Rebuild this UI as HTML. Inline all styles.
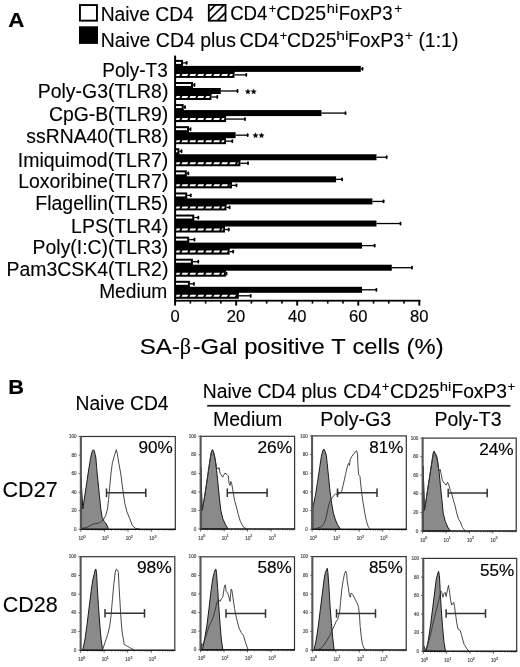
<!DOCTYPE html><html><head><meta charset="utf-8"><style>html,body{margin:0;padding:0;background:#fff;}svg{display:block;filter:grayscale(100%) blur(0.3px);font-family:"Liberation Sans", sans-serif;font-kerning:none;}text{font-kerning:none;white-space:pre;}</style></head><body>
<svg xmlns="http://www.w3.org/2000/svg" width="520" height="667" viewBox="0 0 520 667">
<rect width="520" height="667" fill="#fff"/>
<g transform="translate(8.24,26.60) scale(1.0647,1)" fill="#000" stroke="#000" stroke-width="0.2" font-weight="bold">
<text x="0.00" y="0.00" font-size="21.00">A</text>
</g>
<rect x="79.95" y="5.05" width="17" height="15.6" fill="#fff" stroke="#000" stroke-width="1.9"/>
<rect x="79" y="26.3" width="19" height="17.6" fill="#000"/>
<clipPath id="hb"><rect x="208.8" y="4.9" width="16.7" height="15.8"/></clipPath>
<g clip-path="url(#hb)" stroke="#000" stroke-width="1.6">
<line x1="190.5" y1="30" x2="220.5" y2="0"/>
<line x1="199" y1="30" x2="229" y2="0"/>
<line x1="208" y1="30" x2="238" y2="0"/>
</g>
<rect x="208.8" y="4.9" width="16.7" height="15.8" fill="none" stroke="#000" stroke-width="1.8"/>
<g transform="translate(100.72,20.70) scale(0.9730,1)" fill="#000" stroke="#000" stroke-width="0.12">
<text x="0.00" y="0.00" font-size="19.80">Naive CD4</text>
</g>
<g transform="translate(230.15,19.70) scale(0.9415,1)" fill="#000" stroke="#000" stroke-width="0.12">
<text x="0.00" y="0.00" font-size="19.80">CD4</text>
</g>
<g transform="translate(268.68,12.70) scale(0.9383,1)" fill="#000" stroke="#000" stroke-width="0.12">
<text x="0.00" y="0.00" font-size="13.60">+</text>
</g>
<g transform="translate(276.31,19.70) scale(0.9860,1)" fill="#000" stroke="#000" stroke-width="0.12">
<text x="0.00" y="0.00" font-size="19.80">CD25</text>
</g>
<g transform="translate(326.78,12.70) scale(1.0773,1)" fill="#000" stroke="#000" stroke-width="0.12">
<text x="0.00" y="0.00" font-size="13.60">hi</text>
</g>
<g transform="translate(338.67,19.70) scale(0.9410,1)" fill="#000" stroke="#000" stroke-width="0.12">
<text x="0.00" y="0.00" font-size="19.80">FoxP3</text>
</g>
<g transform="translate(394.13,12.70) scale(1.0140,1)" fill="#000" stroke="#000" stroke-width="0.12">
<text x="0.00" y="0.00" font-size="13.60">+</text>
</g>
<g transform="translate(100.70,46.80) scale(0.9829,1)" fill="#000" stroke="#000" stroke-width="0.12">
<text x="0.00" y="0.00" font-size="19.80">Naive CD4 plus</text>
</g>
<g transform="translate(239.39,46.80) scale(1.0020,1)" fill="#000" stroke="#000" stroke-width="0.12">
<text x="0.00" y="0.00" font-size="19.80">CD4</text>
</g>
<g transform="translate(279.78,39.80) scale(0.9383,1)" fill="#000" stroke="#000" stroke-width="0.12">
<text x="0.00" y="0.00" font-size="13.60">+</text>
</g>
<g transform="translate(287.12,46.80) scale(0.9778,1)" fill="#000" stroke="#000" stroke-width="0.12">
<text x="0.00" y="0.00" font-size="19.80">CD25</text>
</g>
<g transform="translate(336.22,39.80) scale(1.1460,1)" fill="#000" stroke="#000" stroke-width="0.12">
<text x="0.00" y="0.00" font-size="13.60">hi</text>
</g>
<g transform="translate(348.01,46.80) scale(0.9775,1)" fill="#000" stroke="#000" stroke-width="0.12">
<text x="0.00" y="0.00" font-size="19.80">FoxP3</text>
</g>
<g transform="translate(404.94,39.80) scale(0.9989,1)" fill="#000" stroke="#000" stroke-width="0.12">
<text x="0.00" y="0.00" font-size="13.60">+</text>
</g>
<g transform="translate(418.39,46.80) scale(0.9828,1)" fill="#000" stroke="#000" stroke-width="0.12">
<text x="0.00" y="0.00" font-size="19.80">(1:1)</text>
</g>
<rect x="174.1" y="55.6" width="2" height="245.9" fill="#000"/>
<rect x="174.1" y="299.8" width="246.3" height="1.8" fill="#000"/>
<rect x="174.15" y="300" width="1.9" height="5.6" fill="#000"/>
<rect x="189.56" y="300" width="1.6" height="3.6" fill="#000"/>
<rect x="204.82" y="300" width="1.6" height="3.6" fill="#000"/>
<rect x="220.09" y="300" width="1.6" height="3.6" fill="#000"/>
<rect x="235.20" y="300" width="1.9" height="5.6" fill="#000"/>
<rect x="250.61" y="300" width="1.6" height="3.6" fill="#000"/>
<rect x="265.88" y="300" width="1.6" height="3.6" fill="#000"/>
<rect x="281.14" y="300" width="1.6" height="3.6" fill="#000"/>
<rect x="296.25" y="300" width="1.9" height="5.6" fill="#000"/>
<rect x="311.66" y="300" width="1.6" height="3.6" fill="#000"/>
<rect x="326.93" y="300" width="1.6" height="3.6" fill="#000"/>
<rect x="342.19" y="300" width="1.6" height="3.6" fill="#000"/>
<rect x="357.30" y="300" width="1.9" height="5.6" fill="#000"/>
<rect x="372.71" y="300" width="1.6" height="3.6" fill="#000"/>
<rect x="387.97" y="300" width="1.6" height="3.6" fill="#000"/>
<rect x="403.24" y="300" width="1.6" height="3.6" fill="#000"/>
<rect x="418.35" y="300" width="1.9" height="5.6" fill="#000"/>
<g transform="translate(170.49,321.90) scale(1.0300,1)" fill="#000" stroke="#000" stroke-width="0.15">
<text x="0.00" y="0.00" font-size="16.10">0</text>
</g>
<g transform="translate(226.83,321.90) scale(1.0300,1)" fill="#000" stroke="#000" stroke-width="0.15">
<text x="0.00" y="0.00" font-size="16.10">20</text>
</g>
<g transform="translate(288.11,321.90) scale(1.0300,1)" fill="#000" stroke="#000" stroke-width="0.15">
<text x="0.00" y="0.00" font-size="16.10">40</text>
</g>
<g transform="translate(348.93,321.90) scale(1.0300,1)" fill="#000" stroke="#000" stroke-width="0.15">
<text x="0.00" y="0.00" font-size="16.10">60</text>
</g>
<g transform="translate(410.04,321.90) scale(1.0300,1)" fill="#000" stroke="#000" stroke-width="0.15">
<text x="0.00" y="0.00" font-size="16.10">80</text>
</g>
<g transform="translate(139.81,353.60) scale(1.0568,1)" fill="#000" stroke="#000" stroke-width="0.15">
<text x="0.00" y="0.00" font-size="22.80">SA-</text>
</g>
<g transform="translate(179.87,353.60) scale(0.9887,1)" fill="#000" stroke="#000" stroke-width="0.15" font-family="Liberation Serif, serif">
<text x="0.00" y="0.00" font-size="22.40">β</text>
</g>
<g transform="translate(192.64,353.60) scale(1.0429,1)" fill="#000" stroke="#000" stroke-width="0.15">
<text x="0.00" y="0.00" font-size="22.80">-Gal positive T cells (%)</text>
</g>
<rect x="183.00" y="62.25" width="3.70" height="1.3" fill="#000"/>
<rect x="185.80" y="61.00" width="1.8" height="3.8" rx="0.8" fill="#000"/>
<rect x="176" y="59.90" width="7.00" height="6" fill="#000"/>
<rect x="176" y="61.90" width="5.00" height="2" fill="#fff"/>
<rect x="360.80" y="68.25" width="1.70" height="1.3" fill="#000"/>
<rect x="361.60" y="67.00" width="1.8" height="3.8" rx="0.8" fill="#000"/>
<rect x="176" y="65.90" width="184.80" height="6" fill="#000"/>
<rect x="234.50" y="74.25" width="11.80" height="1.3" fill="#000"/>
<rect x="245.40" y="73.00" width="1.8" height="3.8" rx="0.8" fill="#000"/>
<rect x="176" y="71.90" width="58.50" height="6" fill="#000"/>
<rect x="176" y="64.90" width="7.00" height="2" fill="#000"/>
<rect x="176" y="70.90" width="58.50" height="2" fill="#000"/>
<polygon points="176.50,73.90 180.30,73.90 179.30,75.90 176.00,75.90" fill="#fff"/>
<polygon points="182.50,73.90 188.25,73.90 187.25,75.90 181.50,75.90" fill="#fff"/>
<polygon points="190.45,73.90 196.20,73.90 195.20,75.90 189.45,75.90" fill="#fff"/>
<polygon points="198.40,73.90 204.15,73.90 203.15,75.90 197.40,75.90" fill="#fff"/>
<polygon points="206.35,73.90 212.10,73.90 211.10,75.90 205.35,75.90" fill="#fff"/>
<polygon points="214.30,73.90 220.05,73.90 219.05,75.90 213.30,75.90" fill="#fff"/>
<polygon points="222.25,73.90 228.00,73.90 227.00,75.90 221.25,75.90" fill="#fff"/>
<polygon points="230.20,73.90 233.00,73.90 232.00,75.90 229.20,75.90" fill="#fff"/>
<rect x="193.00" y="84.34" width="1.50" height="1.3" fill="#000"/>
<rect x="193.60" y="83.09" width="1.8" height="3.8" rx="0.8" fill="#000"/>
<rect x="176" y="81.99" width="17.00" height="6" fill="#000"/>
<rect x="176" y="83.99" width="15.00" height="2" fill="#fff"/>
<rect x="220.80" y="90.34" width="16.70" height="1.3" fill="#000"/>
<rect x="236.60" y="89.09" width="1.8" height="3.8" rx="0.8" fill="#000"/>
<rect x="176" y="87.99" width="44.80" height="6" fill="#000"/>
<rect x="211.50" y="96.34" width="5.80" height="1.3" fill="#000"/>
<rect x="216.40" y="95.09" width="1.8" height="3.8" rx="0.8" fill="#000"/>
<rect x="176" y="93.99" width="35.50" height="6" fill="#000"/>
<rect x="176" y="86.99" width="17.00" height="2" fill="#000"/>
<rect x="176" y="92.99" width="35.50" height="2" fill="#000"/>
<polygon points="176.50,95.99 180.30,95.99 179.30,97.99 176.00,97.99" fill="#fff"/>
<polygon points="182.50,95.99 188.25,95.99 187.25,97.99 181.50,97.99" fill="#fff"/>
<polygon points="190.45,95.99 196.20,95.99 195.20,97.99 189.45,97.99" fill="#fff"/>
<polygon points="198.40,95.99 204.15,95.99 203.15,97.99 197.40,97.99" fill="#fff"/>
<polygon points="206.35,95.99 210.00,95.99 209.00,97.99 205.35,97.99" fill="#fff"/>
<rect x="183.70" y="106.43" width="1.30" height="1.3" fill="#000"/>
<rect x="184.10" y="105.18" width="1.8" height="3.8" rx="0.8" fill="#000"/>
<rect x="176" y="104.08" width="7.70" height="6" fill="#000"/>
<rect x="176" y="106.08" width="5.70" height="2" fill="#fff"/>
<rect x="321.50" y="112.43" width="24.00" height="1.3" fill="#000"/>
<rect x="344.60" y="111.18" width="1.8" height="3.8" rx="0.8" fill="#000"/>
<rect x="176" y="110.08" width="145.50" height="6" fill="#000"/>
<rect x="226.10" y="118.43" width="18.90" height="1.3" fill="#000"/>
<rect x="244.10" y="117.18" width="1.8" height="3.8" rx="0.8" fill="#000"/>
<rect x="176" y="116.08" width="50.10" height="6" fill="#000"/>
<rect x="176" y="109.08" width="7.70" height="2" fill="#000"/>
<rect x="176" y="115.08" width="50.10" height="2" fill="#000"/>
<polygon points="176.50,118.08 180.30,118.08 179.30,120.08 176.00,120.08" fill="#fff"/>
<polygon points="182.50,118.08 188.25,118.08 187.25,120.08 181.50,120.08" fill="#fff"/>
<polygon points="190.45,118.08 196.20,118.08 195.20,120.08 189.45,120.08" fill="#fff"/>
<polygon points="198.40,118.08 204.15,118.08 203.15,120.08 197.40,120.08" fill="#fff"/>
<polygon points="206.35,118.08 212.10,118.08 211.10,120.08 205.35,120.08" fill="#fff"/>
<polygon points="214.30,118.08 220.05,118.08 219.05,120.08 213.30,120.08" fill="#fff"/>
<polygon points="222.25,118.08 224.60,118.08 223.60,120.08 221.25,120.08" fill="#fff"/>
<rect x="189.00" y="128.52" width="1.50" height="1.3" fill="#000"/>
<rect x="189.60" y="127.27" width="1.8" height="3.8" rx="0.8" fill="#000"/>
<rect x="176" y="126.17" width="13.00" height="6" fill="#000"/>
<rect x="176" y="128.17" width="11.00" height="2" fill="#fff"/>
<rect x="235.60" y="134.52" width="12.10" height="1.3" fill="#000"/>
<rect x="246.80" y="133.27" width="1.8" height="3.8" rx="0.8" fill="#000"/>
<rect x="176" y="132.17" width="59.60" height="6" fill="#000"/>
<rect x="226.00" y="140.52" width="6.30" height="1.3" fill="#000"/>
<rect x="231.40" y="139.27" width="1.8" height="3.8" rx="0.8" fill="#000"/>
<rect x="176" y="138.17" width="50.00" height="6" fill="#000"/>
<rect x="176" y="131.17" width="13.00" height="2" fill="#000"/>
<rect x="176" y="137.17" width="50.00" height="2" fill="#000"/>
<polygon points="176.50,140.17 180.30,140.17 179.30,142.17 176.00,142.17" fill="#fff"/>
<polygon points="182.50,140.17 188.25,140.17 187.25,142.17 181.50,142.17" fill="#fff"/>
<polygon points="190.45,140.17 196.20,140.17 195.20,142.17 189.45,142.17" fill="#fff"/>
<polygon points="198.40,140.17 204.15,140.17 203.15,142.17 197.40,142.17" fill="#fff"/>
<polygon points="206.35,140.17 212.10,140.17 211.10,142.17 205.35,142.17" fill="#fff"/>
<polygon points="214.30,140.17 220.05,140.17 219.05,142.17 213.30,142.17" fill="#fff"/>
<polygon points="222.25,140.17 224.50,140.17 223.50,142.17 221.25,142.17" fill="#fff"/>
<rect x="179.40" y="150.61" width="2.10" height="1.3" fill="#000"/>
<rect x="180.60" y="149.36" width="1.8" height="3.8" rx="0.8" fill="#000"/>
<rect x="176" y="148.26" width="3.40" height="6" fill="#000"/>
<rect x="176" y="150.26" width="1.40" height="2" fill="#fff"/>
<rect x="376.50" y="156.61" width="10.20" height="1.3" fill="#000"/>
<rect x="385.80" y="155.36" width="1.8" height="3.8" rx="0.8" fill="#000"/>
<rect x="176" y="154.26" width="200.50" height="6" fill="#000"/>
<rect x="240.40" y="162.61" width="7.60" height="1.3" fill="#000"/>
<rect x="247.10" y="161.36" width="1.8" height="3.8" rx="0.8" fill="#000"/>
<rect x="176" y="160.26" width="64.40" height="6" fill="#000"/>
<rect x="176" y="153.26" width="3.40" height="2" fill="#000"/>
<rect x="176" y="159.26" width="64.40" height="2" fill="#000"/>
<polygon points="176.50,162.26 180.30,162.26 179.30,164.26 176.00,164.26" fill="#fff"/>
<polygon points="182.50,162.26 188.25,162.26 187.25,164.26 181.50,164.26" fill="#fff"/>
<polygon points="190.45,162.26 196.20,162.26 195.20,164.26 189.45,164.26" fill="#fff"/>
<polygon points="198.40,162.26 204.15,162.26 203.15,164.26 197.40,164.26" fill="#fff"/>
<polygon points="206.35,162.26 212.10,162.26 211.10,164.26 205.35,164.26" fill="#fff"/>
<polygon points="214.30,162.26 220.05,162.26 219.05,164.26 213.30,164.26" fill="#fff"/>
<polygon points="222.25,162.26 228.00,162.26 227.00,164.26 221.25,164.26" fill="#fff"/>
<polygon points="230.20,162.26 235.95,162.26 234.95,164.26 229.20,164.26" fill="#fff"/>
<polygon points="238.15,162.26 238.90,162.26 237.90,164.26 237.15,164.26" fill="#fff"/>
<rect x="186.80" y="172.70" width="1.50" height="1.3" fill="#000"/>
<rect x="187.40" y="171.45" width="1.8" height="3.8" rx="0.8" fill="#000"/>
<rect x="176" y="170.35" width="10.80" height="6" fill="#000"/>
<rect x="176" y="172.35" width="8.80" height="2" fill="#fff"/>
<rect x="336.10" y="178.70" width="6.00" height="1.3" fill="#000"/>
<rect x="341.20" y="177.45" width="1.8" height="3.8" rx="0.8" fill="#000"/>
<rect x="176" y="176.35" width="160.10" height="6" fill="#000"/>
<rect x="232.00" y="184.70" width="4.50" height="1.3" fill="#000"/>
<rect x="235.60" y="183.45" width="1.8" height="3.8" rx="0.8" fill="#000"/>
<rect x="176" y="182.35" width="56.00" height="6" fill="#000"/>
<rect x="176" y="175.35" width="10.80" height="2" fill="#000"/>
<rect x="176" y="181.35" width="56.00" height="2" fill="#000"/>
<polygon points="176.50,184.35 180.30,184.35 179.30,186.35 176.00,186.35" fill="#fff"/>
<polygon points="182.50,184.35 188.25,184.35 187.25,186.35 181.50,186.35" fill="#fff"/>
<polygon points="190.45,184.35 196.20,184.35 195.20,186.35 189.45,186.35" fill="#fff"/>
<polygon points="198.40,184.35 204.15,184.35 203.15,186.35 197.40,186.35" fill="#fff"/>
<polygon points="206.35,184.35 212.10,184.35 211.10,186.35 205.35,186.35" fill="#fff"/>
<polygon points="214.30,184.35 220.05,184.35 219.05,186.35 213.30,186.35" fill="#fff"/>
<polygon points="222.25,184.35 228.00,184.35 227.00,186.35 221.25,186.35" fill="#fff"/>
<polygon points="230.20,184.35 230.50,184.35 229.50,186.35 229.20,186.35" fill="#fff"/>
<rect x="187.20" y="194.79" width="3.60" height="1.3" fill="#000"/>
<rect x="189.90" y="193.54" width="1.8" height="3.8" rx="0.8" fill="#000"/>
<rect x="176" y="192.44" width="11.20" height="6" fill="#000"/>
<rect x="176" y="194.44" width="9.20" height="2" fill="#fff"/>
<rect x="372.40" y="200.79" width="11.20" height="1.3" fill="#000"/>
<rect x="382.70" y="199.54" width="1.8" height="3.8" rx="0.8" fill="#000"/>
<rect x="176" y="198.44" width="196.40" height="6" fill="#000"/>
<rect x="226.50" y="206.79" width="3.10" height="1.3" fill="#000"/>
<rect x="228.70" y="205.54" width="1.8" height="3.8" rx="0.8" fill="#000"/>
<rect x="176" y="204.44" width="50.50" height="6" fill="#000"/>
<rect x="176" y="197.44" width="11.20" height="2" fill="#000"/>
<rect x="176" y="203.44" width="50.50" height="2" fill="#000"/>
<polygon points="176.50,206.44 180.30,206.44 179.30,208.44 176.00,208.44" fill="#fff"/>
<polygon points="182.50,206.44 188.25,206.44 187.25,208.44 181.50,208.44" fill="#fff"/>
<polygon points="190.45,206.44 196.20,206.44 195.20,208.44 189.45,208.44" fill="#fff"/>
<polygon points="198.40,206.44 204.15,206.44 203.15,208.44 197.40,208.44" fill="#fff"/>
<polygon points="206.35,206.44 212.10,206.44 211.10,208.44 205.35,208.44" fill="#fff"/>
<polygon points="214.30,206.44 220.05,206.44 219.05,208.44 213.30,208.44" fill="#fff"/>
<polygon points="222.25,206.44 225.00,206.44 224.00,208.44 221.25,208.44" fill="#fff"/>
<rect x="194.20" y="216.88" width="4.10" height="1.3" fill="#000"/>
<rect x="197.40" y="215.63" width="1.8" height="3.8" rx="0.8" fill="#000"/>
<rect x="176" y="214.53" width="18.20" height="6" fill="#000"/>
<rect x="176" y="216.53" width="16.20" height="2" fill="#fff"/>
<rect x="376.50" y="222.88" width="24.00" height="1.3" fill="#000"/>
<rect x="399.60" y="221.63" width="1.8" height="3.8" rx="0.8" fill="#000"/>
<rect x="176" y="220.53" width="200.50" height="6" fill="#000"/>
<rect x="225.00" y="228.88" width="3.80" height="1.3" fill="#000"/>
<rect x="227.90" y="227.63" width="1.8" height="3.8" rx="0.8" fill="#000"/>
<rect x="176" y="226.53" width="49.00" height="6" fill="#000"/>
<rect x="176" y="219.53" width="18.20" height="2" fill="#000"/>
<rect x="176" y="225.53" width="49.00" height="2" fill="#000"/>
<polygon points="176.50,228.53 180.30,228.53 179.30,230.53 176.00,230.53" fill="#fff"/>
<polygon points="182.50,228.53 188.25,228.53 187.25,230.53 181.50,230.53" fill="#fff"/>
<polygon points="190.45,228.53 196.20,228.53 195.20,230.53 189.45,230.53" fill="#fff"/>
<polygon points="198.40,228.53 204.15,228.53 203.15,230.53 197.40,230.53" fill="#fff"/>
<polygon points="206.35,228.53 212.10,228.53 211.10,230.53 205.35,230.53" fill="#fff"/>
<polygon points="214.30,228.53 220.05,228.53 219.05,230.53 213.30,230.53" fill="#fff"/>
<polygon points="222.25,228.53 223.50,228.53 222.50,230.53 221.25,230.53" fill="#fff"/>
<rect x="189.20" y="238.97" width="5.30" height="1.3" fill="#000"/>
<rect x="193.60" y="237.72" width="1.8" height="3.8" rx="0.8" fill="#000"/>
<rect x="176" y="236.62" width="13.20" height="6" fill="#000"/>
<rect x="176" y="238.62" width="11.20" height="2" fill="#fff"/>
<rect x="362.00" y="244.97" width="12.70" height="1.3" fill="#000"/>
<rect x="373.80" y="243.72" width="1.8" height="3.8" rx="0.8" fill="#000"/>
<rect x="176" y="242.62" width="186.00" height="6" fill="#000"/>
<rect x="229.60" y="250.97" width="3.60" height="1.3" fill="#000"/>
<rect x="232.30" y="249.72" width="1.8" height="3.8" rx="0.8" fill="#000"/>
<rect x="176" y="248.62" width="53.60" height="6" fill="#000"/>
<rect x="176" y="241.62" width="13.20" height="2" fill="#000"/>
<rect x="176" y="247.62" width="53.60" height="2" fill="#000"/>
<polygon points="176.50,250.62 180.30,250.62 179.30,252.62 176.00,252.62" fill="#fff"/>
<polygon points="182.50,250.62 188.25,250.62 187.25,252.62 181.50,252.62" fill="#fff"/>
<polygon points="190.45,250.62 196.20,250.62 195.20,252.62 189.45,252.62" fill="#fff"/>
<polygon points="198.40,250.62 204.15,250.62 203.15,252.62 197.40,252.62" fill="#fff"/>
<polygon points="206.35,250.62 212.10,250.62 211.10,252.62 205.35,252.62" fill="#fff"/>
<polygon points="214.30,250.62 220.05,250.62 219.05,252.62 213.30,252.62" fill="#fff"/>
<polygon points="222.25,250.62 228.00,250.62 227.00,252.62 221.25,252.62" fill="#fff"/>
<rect x="192.90" y="261.06" width="5.40" height="1.3" fill="#000"/>
<rect x="197.40" y="259.81" width="1.8" height="3.8" rx="0.8" fill="#000"/>
<rect x="176" y="258.71" width="16.90" height="6" fill="#000"/>
<rect x="176" y="260.71" width="14.90" height="2" fill="#fff"/>
<rect x="391.80" y="267.06" width="20.20" height="1.3" fill="#000"/>
<rect x="411.10" y="265.81" width="1.8" height="3.8" rx="0.8" fill="#000"/>
<rect x="176" y="264.71" width="215.80" height="6" fill="#000"/>
<rect x="225.80" y="273.06" width="0.70" height="1.3" fill="#000"/>
<rect x="225.60" y="271.81" width="1.8" height="3.8" rx="0.8" fill="#000"/>
<rect x="176" y="270.71" width="49.80" height="6" fill="#000"/>
<rect x="176" y="263.71" width="16.90" height="2" fill="#000"/>
<rect x="176" y="269.71" width="49.80" height="2" fill="#000"/>
<polygon points="176.50,272.71 180.30,272.71 179.30,274.71 176.00,274.71" fill="#fff"/>
<polygon points="182.50,272.71 188.25,272.71 187.25,274.71 181.50,274.71" fill="#fff"/>
<polygon points="190.45,272.71 196.20,272.71 195.20,274.71 189.45,274.71" fill="#fff"/>
<polygon points="198.40,272.71 204.15,272.71 203.15,274.71 197.40,274.71" fill="#fff"/>
<polygon points="206.35,272.71 212.10,272.71 211.10,274.71 205.35,274.71" fill="#fff"/>
<polygon points="214.30,272.71 220.05,272.71 219.05,274.71 213.30,274.71" fill="#fff"/>
<polygon points="222.25,272.71 224.30,272.71 223.30,274.71 221.25,274.71" fill="#fff"/>
<rect x="189.90" y="283.15" width="4.00" height="1.3" fill="#000"/>
<rect x="193.00" y="281.90" width="1.8" height="3.8" rx="0.8" fill="#000"/>
<rect x="176" y="280.80" width="13.90" height="6" fill="#000"/>
<rect x="176" y="282.80" width="11.90" height="2" fill="#fff"/>
<rect x="362.00" y="289.15" width="14.40" height="1.3" fill="#000"/>
<rect x="375.50" y="287.90" width="1.8" height="3.8" rx="0.8" fill="#000"/>
<rect x="176" y="286.80" width="186.00" height="6" fill="#000"/>
<rect x="238.80" y="295.15" width="11.90" height="1.3" fill="#000"/>
<rect x="249.80" y="293.90" width="1.8" height="3.8" rx="0.8" fill="#000"/>
<rect x="176" y="292.80" width="62.80" height="6" fill="#000"/>
<rect x="176" y="285.80" width="13.90" height="2" fill="#000"/>
<rect x="176" y="291.80" width="62.80" height="2" fill="#000"/>
<polygon points="176.50,294.80 180.30,294.80 179.30,296.80 176.00,296.80" fill="#fff"/>
<polygon points="182.50,294.80 188.25,294.80 187.25,296.80 181.50,296.80" fill="#fff"/>
<polygon points="190.45,294.80 196.20,294.80 195.20,296.80 189.45,296.80" fill="#fff"/>
<polygon points="198.40,294.80 204.15,294.80 203.15,296.80 197.40,296.80" fill="#fff"/>
<polygon points="206.35,294.80 212.10,294.80 211.10,296.80 205.35,296.80" fill="#fff"/>
<polygon points="214.30,294.80 220.05,294.80 219.05,296.80 213.30,296.80" fill="#fff"/>
<polygon points="222.25,294.80 228.00,294.80 227.00,296.80 221.25,296.80" fill="#fff"/>
<polygon points="230.20,294.80 235.95,294.80 234.95,296.80 229.20,296.80" fill="#fff"/>
<polygon points="247.90,88.90 248.64,90.68 250.56,90.83 249.10,92.09 249.55,93.97 247.90,92.96 246.25,93.97 246.70,92.09 245.24,90.83 247.16,90.68" fill="#000" stroke="#000" stroke-width="0.3" stroke-linejoin="round"/>
<polygon points="253.70,88.90 254.44,90.68 256.36,90.83 254.90,92.09 255.35,93.97 253.70,92.96 252.05,93.97 252.50,92.09 251.04,90.83 252.96,90.68" fill="#000" stroke="#000" stroke-width="0.3" stroke-linejoin="round"/>
<polygon points="255.50,132.70 256.24,134.48 258.16,134.63 256.70,135.89 257.15,137.77 255.50,136.76 253.85,137.77 254.30,135.89 252.84,134.63 254.76,134.48" fill="#000" stroke="#000" stroke-width="0.3" stroke-linejoin="round"/>
<polygon points="261.50,132.70 262.24,134.48 264.16,134.63 262.70,135.89 263.15,137.77 261.50,136.76 259.85,137.77 260.30,135.89 258.84,134.63 260.76,134.48" fill="#000" stroke="#000" stroke-width="0.3" stroke-linejoin="round"/>
<g transform="translate(102.24,76.80) scale(0.9749,1)" fill="#000" stroke="#000" stroke-width="0.12">
<text x="0.00" y="0.00" font-size="19.50">Poly-T3</text>
</g>
<g transform="translate(37.81,98.20) scale(0.9961,1)" fill="#000" stroke="#000" stroke-width="0.12">
<text x="0.00" y="0.00" font-size="19.50">Poly-G3(TLR8)</text>
</g>
<g transform="translate(48.92,120.80) scale(0.9935,1)" fill="#000" stroke="#000" stroke-width="0.12">
<text x="0.00" y="0.00" font-size="19.50">CpG-B(TLR9)</text>
</g>
<g transform="translate(26.36,143.30) scale(0.9931,1)" fill="#000" stroke="#000" stroke-width="0.12">
<text x="0.00" y="0.00" font-size="19.50">ssRNA40(TLR8)</text>
</g>
<g transform="translate(17.80,166.60) scale(0.9999,1)" fill="#000" stroke="#000" stroke-width="0.12">
<text x="0.00" y="0.00" font-size="19.50">Imiquimod(TLR7)</text>
</g>
<g transform="translate(18.21,187.50) scale(0.9970,1)" fill="#000" stroke="#000" stroke-width="0.12">
<text x="0.00" y="0.00" font-size="19.50">Loxoribine(TLR7)</text>
</g>
<g transform="translate(35.30,209.80) scale(0.9986,1)" fill="#000" stroke="#000" stroke-width="0.12">
<text x="0.00" y="0.00" font-size="19.50">Flagellin(TLR5)</text>
</g>
<g transform="translate(71.10,232.70) scale(0.9977,1)" fill="#000" stroke="#000" stroke-width="0.12">
<text x="0.00" y="0.00" font-size="19.50">LPS(TLR4)</text>
</g>
<g transform="translate(32.61,253.50) scale(0.9948,1)" fill="#000" stroke="#000" stroke-width="0.12">
<text x="0.00" y="0.00" font-size="19.50">Poly(I:C)(TLR3)</text>
</g>
<g transform="translate(6.51,275.60) scale(0.9960,1)" fill="#000" stroke="#000" stroke-width="0.12">
<text x="0.00" y="0.00" font-size="19.50">Pam3CSK4(TLR2)</text>
</g>
<g transform="translate(99.13,297.90) scale(0.9839,1)" fill="#000" stroke="#000" stroke-width="0.12">
<text x="0.00" y="0.00" font-size="19.50">Medium</text>
</g>
<g transform="translate(8.34,394.10) scale(1.0638,1)" fill="#000" stroke="#000" stroke-width="0.2" font-weight="bold">
<text x="0.00" y="0.00" font-size="20.50">B</text>
</g>
<g transform="translate(75.52,409.70) scale(0.9730,1)" fill="#000" stroke="#000" stroke-width="0.12">
<text x="0.00" y="0.00" font-size="19.80">Naive CD4</text>
</g>
<g transform="translate(202.72,397.50) scale(0.9755,1)" fill="#000" stroke="#000" stroke-width="0.12">
<text x="0.00" y="0.00" font-size="19.80">Naive CD4 plus</text>
</g>
<g transform="translate(343.34,397.50) scale(0.9573,1)" fill="#000" stroke="#000" stroke-width="0.12">
<text x="0.00" y="0.00" font-size="19.80">CD4</text>
</g>
<g transform="translate(381.76,390.50) scale(0.9686,1)" fill="#000" stroke="#000" stroke-width="0.12">
<text x="0.00" y="0.00" font-size="13.60">+</text>
</g>
<g transform="translate(390.01,397.50) scale(0.9798,1)" fill="#000" stroke="#000" stroke-width="0.12">
<text x="0.00" y="0.00" font-size="19.80">CD25</text>
</g>
<g transform="translate(439.77,390.50) scale(1.0887,1)" fill="#000" stroke="#000" stroke-width="0.12">
<text x="0.00" y="0.00" font-size="13.60">hi</text>
</g>
<g transform="translate(451.42,397.50) scale(0.9720,1)" fill="#000" stroke="#000" stroke-width="0.12">
<text x="0.00" y="0.00" font-size="19.80">FoxP3</text>
</g>
<g transform="translate(507.45,390.50) scale(0.9837,1)" fill="#000" stroke="#000" stroke-width="0.12">
<text x="0.00" y="0.00" font-size="13.60">+</text>
</g>
<rect x="207.2" y="404.9" width="303.2" height="1.8" fill="#222"/>
<g transform="translate(212.90,425.50) scale(0.9868,1)" fill="#000" stroke="#000" stroke-width="0.12">
<text x="0.00" y="0.00" font-size="19.80">Medium</text>
</g>
<g transform="translate(320.29,425.50) scale(0.9923,1)" fill="#000" stroke="#000" stroke-width="0.12">
<text x="0.00" y="0.00" font-size="19.80">Poly-G3</text>
</g>
<g transform="translate(434.50,425.50) scale(0.9829,1)" fill="#000" stroke="#000" stroke-width="0.12">
<text x="0.00" y="0.00" font-size="19.80">Poly-T3</text>
</g>
<g transform="translate(2.50,496.60) scale(1.0133,1)" fill="#000" stroke="#000" stroke-width="0.1">
<text x="0.00" y="0.00" font-size="21.30">CD27</text>
</g>
<g transform="translate(2.71,611.80) scale(1.0105,1)" fill="#000" stroke="#000" stroke-width="0.1">
<text x="0.00" y="0.00" font-size="21.30">CD28</text>
</g>
<text x="74.02" y="530.90" font-size="4.6" fill="#555" stroke="#555" stroke-width="0.2">0</text>
<rect x="78.60" y="528.85" width="2" height="0.9" fill="#555"/>
<text x="71.46" y="512.34" font-size="4.6" fill="#555" stroke="#555" stroke-width="0.2">20</text>
<rect x="78.60" y="510.29" width="2" height="0.9" fill="#555"/>
<text x="71.46" y="493.78" font-size="4.6" fill="#555" stroke="#555" stroke-width="0.2">40</text>
<rect x="78.60" y="491.73" width="2" height="0.9" fill="#555"/>
<text x="71.46" y="475.22" font-size="4.6" fill="#555" stroke="#555" stroke-width="0.2">60</text>
<rect x="78.60" y="473.17" width="2" height="0.9" fill="#555"/>
<text x="71.46" y="456.66" font-size="4.6" fill="#555" stroke="#555" stroke-width="0.2">80</text>
<rect x="78.60" y="454.61" width="2" height="0.9" fill="#555"/>
<text x="68.90" y="438.10" font-size="4.6" fill="#555" stroke="#555" stroke-width="0.2">100</text>
<rect x="78.60" y="436.05" width="2" height="0.9" fill="#555"/>
<text x="78.40" y="539.80" font-size="4.6" fill="#555" stroke="#555" stroke-width="0.2">10</text>
<text x="83.50" y="537.60" font-size="3.6" fill="#555" stroke="#555" stroke-width="0.2">0</text>
<rect x="80.35" y="529.30" width="0.9" height="2.5" fill="#555"/>
<rect x="87.56" y="529.30" width="0.7" height="1.5" fill="#888"/>
<rect x="91.72" y="529.30" width="0.7" height="1.5" fill="#888"/>
<rect x="94.67" y="529.30" width="0.7" height="1.5" fill="#888"/>
<rect x="96.96" y="529.30" width="0.7" height="1.5" fill="#888"/>
<rect x="98.83" y="529.30" width="0.7" height="1.5" fill="#888"/>
<rect x="100.42" y="529.30" width="0.7" height="1.5" fill="#888"/>
<rect x="101.79" y="529.30" width="0.7" height="1.5" fill="#888"/>
<rect x="102.99" y="529.30" width="0.7" height="1.5" fill="#888"/>
<text x="102.02" y="539.80" font-size="4.6" fill="#555" stroke="#555" stroke-width="0.2">10</text>
<text x="107.12" y="537.60" font-size="3.6" fill="#555" stroke="#555" stroke-width="0.2">1</text>
<rect x="103.97" y="529.30" width="0.9" height="2.5" fill="#555"/>
<rect x="111.19" y="529.30" width="0.7" height="1.5" fill="#888"/>
<rect x="115.35" y="529.30" width="0.7" height="1.5" fill="#888"/>
<rect x="118.30" y="529.30" width="0.7" height="1.5" fill="#888"/>
<rect x="120.59" y="529.30" width="0.7" height="1.5" fill="#888"/>
<rect x="122.46" y="529.30" width="0.7" height="1.5" fill="#888"/>
<rect x="124.04" y="529.30" width="0.7" height="1.5" fill="#888"/>
<rect x="125.41" y="529.30" width="0.7" height="1.5" fill="#888"/>
<rect x="126.62" y="529.30" width="0.7" height="1.5" fill="#888"/>
<text x="125.65" y="539.80" font-size="4.6" fill="#555" stroke="#555" stroke-width="0.2">10</text>
<text x="130.75" y="537.60" font-size="3.6" fill="#555" stroke="#555" stroke-width="0.2">2</text>
<rect x="127.60" y="529.30" width="0.9" height="2.5" fill="#555"/>
<rect x="134.81" y="529.30" width="0.7" height="1.5" fill="#888"/>
<rect x="138.97" y="529.30" width="0.7" height="1.5" fill="#888"/>
<rect x="141.92" y="529.30" width="0.7" height="1.5" fill="#888"/>
<rect x="144.21" y="529.30" width="0.7" height="1.5" fill="#888"/>
<rect x="146.08" y="529.30" width="0.7" height="1.5" fill="#888"/>
<rect x="147.67" y="529.30" width="0.7" height="1.5" fill="#888"/>
<rect x="149.04" y="529.30" width="0.7" height="1.5" fill="#888"/>
<rect x="150.24" y="529.30" width="0.7" height="1.5" fill="#888"/>
<text x="149.28" y="539.80" font-size="4.6" fill="#555" stroke="#555" stroke-width="0.2">10</text>
<text x="154.38" y="537.60" font-size="3.6" fill="#555" stroke="#555" stroke-width="0.2">3</text>
<rect x="151.23" y="529.30" width="0.9" height="2.5" fill="#555"/>
<rect x="158.44" y="529.30" width="0.7" height="1.5" fill="#888"/>
<rect x="162.60" y="529.30" width="0.7" height="1.5" fill="#888"/>
<rect x="165.55" y="529.30" width="0.7" height="1.5" fill="#888"/>
<rect x="167.84" y="529.30" width="0.7" height="1.5" fill="#888"/>
<rect x="169.71" y="529.30" width="0.7" height="1.5" fill="#888"/>
<rect x="171.29" y="529.30" width="0.7" height="1.5" fill="#888"/>
<rect x="172.66" y="529.30" width="0.7" height="1.5" fill="#888"/>
<rect x="173.87" y="529.30" width="0.7" height="1.5" fill="#888"/>
<polygon points="81.00,529.30 81.00,477.00 82.80,509.00 84.90,495.00 87.00,481.00 89.00,467.60 90.40,459.30 91.80,452.40 93.20,449.70 94.30,451.00 95.20,454.50 95.90,458.00 96.60,467.60 98.00,481.40 99.40,495.20 100.80,509.00 102.10,517.20 104.20,521.40 106.30,524.00 108.30,528.30 108.30,529.30" fill="#8a8a8a" stroke="#111" stroke-width="0.95" stroke-linejoin="round"/>
<polyline points="81.00,528.50 86.30,527.60 90.40,525.50 93.20,524.10 97.30,523.40 99.40,522.80 101.40,521.40 103.50,519.30 105.60,515.90 107.50,509.00 108.60,499.30 109.70,487.00 111.00,473.00 112.40,462.80 113.80,457.90 115.20,453.10 116.30,449.70 117.20,453.10 118.60,462.00 120.70,473.10 122.10,484.10 123.40,493.80 124.80,503.40 126.90,511.70 129.70,518.60 132.40,525.50 135.20,528.30 140.00,529.20" fill="none" stroke="#333" stroke-width="0.9" stroke-linejoin="round"/>
<rect x="80.80" y="436.50" width="94.50" height="92.80" fill="none" stroke="#333" stroke-width="1.2"/>
<line x1="80.80" y1="435.90" x2="80.80" y2="529.90" stroke="#555" stroke-width="2"/>
<line x1="80.80" y1="529.30" x2="175.80" y2="529.30" stroke="#111" stroke-width="1.15"/>
<g stroke="#333" stroke-width="1.5"><line x1="106.50" y1="492.80" x2="145.80" y2="492.80"/><line x1="106.50" y1="488.50" x2="106.50" y2="497.10"/><line x1="145.80" y1="488.50" x2="145.80" y2="497.10"/></g>
<g transform="translate(138.39,453.00) scale(1.0953,1)" fill="#000" stroke="#000" stroke-width="0.15">
<text x="0.00" y="0.00" font-size="15.70">90%</text>
</g>
<text x="193.82" y="530.60" font-size="4.6" fill="#555" stroke="#555" stroke-width="0.2">0</text>
<rect x="198.40" y="528.55" width="2" height="0.9" fill="#555"/>
<text x="191.26" y="512.06" font-size="4.6" fill="#555" stroke="#555" stroke-width="0.2">20</text>
<rect x="198.40" y="510.01" width="2" height="0.9" fill="#555"/>
<text x="191.26" y="493.52" font-size="4.6" fill="#555" stroke="#555" stroke-width="0.2">40</text>
<rect x="198.40" y="491.47" width="2" height="0.9" fill="#555"/>
<text x="191.26" y="474.98" font-size="4.6" fill="#555" stroke="#555" stroke-width="0.2">60</text>
<rect x="198.40" y="472.93" width="2" height="0.9" fill="#555"/>
<text x="191.26" y="456.44" font-size="4.6" fill="#555" stroke="#555" stroke-width="0.2">80</text>
<rect x="198.40" y="454.39" width="2" height="0.9" fill="#555"/>
<text x="188.70" y="437.90" font-size="4.6" fill="#555" stroke="#555" stroke-width="0.2">100</text>
<rect x="198.40" y="435.85" width="2" height="0.9" fill="#555"/>
<text x="198.20" y="539.50" font-size="4.6" fill="#555" stroke="#555" stroke-width="0.2">10</text>
<text x="203.30" y="537.30" font-size="3.6" fill="#555" stroke="#555" stroke-width="0.2">0</text>
<rect x="200.15" y="529.00" width="0.9" height="2.5" fill="#555"/>
<rect x="207.32" y="529.00" width="0.7" height="1.5" fill="#888"/>
<rect x="211.46" y="529.00" width="0.7" height="1.5" fill="#888"/>
<rect x="214.40" y="529.00" width="0.7" height="1.5" fill="#888"/>
<rect x="216.68" y="529.00" width="0.7" height="1.5" fill="#888"/>
<rect x="218.54" y="529.00" width="0.7" height="1.5" fill="#888"/>
<rect x="220.11" y="529.00" width="0.7" height="1.5" fill="#888"/>
<rect x="221.47" y="529.00" width="0.7" height="1.5" fill="#888"/>
<rect x="222.67" y="529.00" width="0.7" height="1.5" fill="#888"/>
<text x="221.70" y="539.50" font-size="4.6" fill="#555" stroke="#555" stroke-width="0.2">10</text>
<text x="226.80" y="537.30" font-size="3.6" fill="#555" stroke="#555" stroke-width="0.2">1</text>
<rect x="223.65" y="529.00" width="0.9" height="2.5" fill="#555"/>
<rect x="230.82" y="529.00" width="0.7" height="1.5" fill="#888"/>
<rect x="234.96" y="529.00" width="0.7" height="1.5" fill="#888"/>
<rect x="237.90" y="529.00" width="0.7" height="1.5" fill="#888"/>
<rect x="240.18" y="529.00" width="0.7" height="1.5" fill="#888"/>
<rect x="242.04" y="529.00" width="0.7" height="1.5" fill="#888"/>
<rect x="243.61" y="529.00" width="0.7" height="1.5" fill="#888"/>
<rect x="244.97" y="529.00" width="0.7" height="1.5" fill="#888"/>
<rect x="246.17" y="529.00" width="0.7" height="1.5" fill="#888"/>
<text x="245.20" y="539.50" font-size="4.6" fill="#555" stroke="#555" stroke-width="0.2">10</text>
<text x="250.30" y="537.30" font-size="3.6" fill="#555" stroke="#555" stroke-width="0.2">2</text>
<rect x="247.15" y="529.00" width="0.9" height="2.5" fill="#555"/>
<rect x="254.32" y="529.00" width="0.7" height="1.5" fill="#888"/>
<rect x="258.46" y="529.00" width="0.7" height="1.5" fill="#888"/>
<rect x="261.40" y="529.00" width="0.7" height="1.5" fill="#888"/>
<rect x="263.68" y="529.00" width="0.7" height="1.5" fill="#888"/>
<rect x="265.54" y="529.00" width="0.7" height="1.5" fill="#888"/>
<rect x="267.11" y="529.00" width="0.7" height="1.5" fill="#888"/>
<rect x="268.47" y="529.00" width="0.7" height="1.5" fill="#888"/>
<rect x="269.67" y="529.00" width="0.7" height="1.5" fill="#888"/>
<text x="268.70" y="539.50" font-size="4.6" fill="#555" stroke="#555" stroke-width="0.2">10</text>
<text x="273.80" y="537.30" font-size="3.6" fill="#555" stroke="#555" stroke-width="0.2">3</text>
<rect x="270.65" y="529.00" width="0.9" height="2.5" fill="#555"/>
<rect x="277.82" y="529.00" width="0.7" height="1.5" fill="#888"/>
<rect x="281.96" y="529.00" width="0.7" height="1.5" fill="#888"/>
<rect x="284.90" y="529.00" width="0.7" height="1.5" fill="#888"/>
<rect x="287.18" y="529.00" width="0.7" height="1.5" fill="#888"/>
<rect x="289.04" y="529.00" width="0.7" height="1.5" fill="#888"/>
<rect x="290.61" y="529.00" width="0.7" height="1.5" fill="#888"/>
<rect x="291.97" y="529.00" width="0.7" height="1.5" fill="#888"/>
<rect x="293.17" y="529.00" width="0.7" height="1.5" fill="#888"/>
<polygon points="200.80,529.00 200.80,467.60 202.10,510.30 204.20,499.30 206.30,485.50 208.30,471.70 210.10,459.30 211.50,451.70 212.50,449.70 213.90,453.10 215.20,459.30 216.60,470.30 218.00,484.10 219.40,497.90 220.80,510.30 222.80,518.60 225.60,524.80 227.70,528.30 227.70,529.00" fill="#8a8a8a" stroke="#111" stroke-width="0.95" stroke-linejoin="round"/>
<polyline points="200.80,467.60 202.10,510.30 204.20,499.30 206.30,485.50 208.30,471.70 210.10,459.30 211.50,451.70 212.50,449.70 214.60,456.60 216.60,467.60 218.40,469.00 219.00,467.60 220.10,473.10 222.60,477.20 224.90,473.10 227.00,474.50 228.30,475.90 229.00,482.80 230.00,485.50 230.80,481.40 231.80,484.10 233.20,492.40 234.60,500.70 236.10,505.80 238.30,514.60 240.50,521.90 243.40,527.00 246.30,528.80" fill="none" stroke="#333" stroke-width="0.9" stroke-linejoin="round"/>
<rect x="200.60" y="436.30" width="94.00" height="92.70" fill="none" stroke="#333" stroke-width="1.2"/>
<line x1="200.60" y1="435.70" x2="200.60" y2="529.60" stroke="#555" stroke-width="2"/>
<line x1="200.60" y1="529.00" x2="295.10" y2="529.00" stroke="#111" stroke-width="1.15"/>
<g stroke="#333" stroke-width="1.5"><line x1="227.30" y1="492.70" x2="267.10" y2="492.70"/><line x1="227.30" y1="488.40" x2="227.30" y2="497.00"/><line x1="267.10" y1="488.40" x2="267.10" y2="497.00"/></g>
<g transform="translate(257.43,452.70) scale(1.1073,1)" fill="#000" stroke="#000" stroke-width="0.15">
<text x="0.00" y="0.00" font-size="15.70">26%</text>
</g>
<text x="305.32" y="530.90" font-size="4.6" fill="#555" stroke="#555" stroke-width="0.2">0</text>
<rect x="309.90" y="528.85" width="2" height="0.9" fill="#555"/>
<text x="302.76" y="512.22" font-size="4.6" fill="#555" stroke="#555" stroke-width="0.2">20</text>
<rect x="309.90" y="510.17" width="2" height="0.9" fill="#555"/>
<text x="302.76" y="493.54" font-size="4.6" fill="#555" stroke="#555" stroke-width="0.2">40</text>
<rect x="309.90" y="491.49" width="2" height="0.9" fill="#555"/>
<text x="302.76" y="474.86" font-size="4.6" fill="#555" stroke="#555" stroke-width="0.2">60</text>
<rect x="309.90" y="472.81" width="2" height="0.9" fill="#555"/>
<text x="302.76" y="456.18" font-size="4.6" fill="#555" stroke="#555" stroke-width="0.2">80</text>
<rect x="309.90" y="454.13" width="2" height="0.9" fill="#555"/>
<text x="300.20" y="437.50" font-size="4.6" fill="#555" stroke="#555" stroke-width="0.2">100</text>
<rect x="309.90" y="435.45" width="2" height="0.9" fill="#555"/>
<text x="309.70" y="539.80" font-size="4.6" fill="#555" stroke="#555" stroke-width="0.2">10</text>
<text x="314.80" y="537.60" font-size="3.6" fill="#555" stroke="#555" stroke-width="0.2">0</text>
<rect x="311.65" y="529.30" width="0.9" height="2.5" fill="#555"/>
<rect x="318.84" y="529.30" width="0.7" height="1.5" fill="#888"/>
<rect x="322.99" y="529.30" width="0.7" height="1.5" fill="#888"/>
<rect x="325.93" y="529.30" width="0.7" height="1.5" fill="#888"/>
<rect x="328.21" y="529.30" width="0.7" height="1.5" fill="#888"/>
<rect x="330.08" y="529.30" width="0.7" height="1.5" fill="#888"/>
<rect x="331.65" y="529.30" width="0.7" height="1.5" fill="#888"/>
<rect x="333.02" y="529.30" width="0.7" height="1.5" fill="#888"/>
<rect x="334.22" y="529.30" width="0.7" height="1.5" fill="#888"/>
<text x="333.25" y="539.80" font-size="4.6" fill="#555" stroke="#555" stroke-width="0.2">10</text>
<text x="338.35" y="537.60" font-size="3.6" fill="#555" stroke="#555" stroke-width="0.2">1</text>
<rect x="335.20" y="529.30" width="0.9" height="2.5" fill="#555"/>
<rect x="342.39" y="529.30" width="0.7" height="1.5" fill="#888"/>
<rect x="346.54" y="529.30" width="0.7" height="1.5" fill="#888"/>
<rect x="349.48" y="529.30" width="0.7" height="1.5" fill="#888"/>
<rect x="351.76" y="529.30" width="0.7" height="1.5" fill="#888"/>
<rect x="353.63" y="529.30" width="0.7" height="1.5" fill="#888"/>
<rect x="355.20" y="529.30" width="0.7" height="1.5" fill="#888"/>
<rect x="356.57" y="529.30" width="0.7" height="1.5" fill="#888"/>
<rect x="357.77" y="529.30" width="0.7" height="1.5" fill="#888"/>
<text x="356.80" y="539.80" font-size="4.6" fill="#555" stroke="#555" stroke-width="0.2">10</text>
<text x="361.90" y="537.60" font-size="3.6" fill="#555" stroke="#555" stroke-width="0.2">2</text>
<rect x="358.75" y="529.30" width="0.9" height="2.5" fill="#555"/>
<rect x="365.94" y="529.30" width="0.7" height="1.5" fill="#888"/>
<rect x="370.09" y="529.30" width="0.7" height="1.5" fill="#888"/>
<rect x="373.03" y="529.30" width="0.7" height="1.5" fill="#888"/>
<rect x="375.31" y="529.30" width="0.7" height="1.5" fill="#888"/>
<rect x="377.18" y="529.30" width="0.7" height="1.5" fill="#888"/>
<rect x="378.75" y="529.30" width="0.7" height="1.5" fill="#888"/>
<rect x="380.12" y="529.30" width="0.7" height="1.5" fill="#888"/>
<rect x="381.32" y="529.30" width="0.7" height="1.5" fill="#888"/>
<text x="380.35" y="539.80" font-size="4.6" fill="#555" stroke="#555" stroke-width="0.2">10</text>
<text x="385.45" y="537.60" font-size="3.6" fill="#555" stroke="#555" stroke-width="0.2">3</text>
<rect x="382.30" y="529.30" width="0.9" height="2.5" fill="#555"/>
<rect x="389.49" y="529.30" width="0.7" height="1.5" fill="#888"/>
<rect x="393.64" y="529.30" width="0.7" height="1.5" fill="#888"/>
<rect x="396.58" y="529.30" width="0.7" height="1.5" fill="#888"/>
<rect x="398.86" y="529.30" width="0.7" height="1.5" fill="#888"/>
<rect x="400.73" y="529.30" width="0.7" height="1.5" fill="#888"/>
<rect x="402.30" y="529.30" width="0.7" height="1.5" fill="#888"/>
<rect x="403.67" y="529.30" width="0.7" height="1.5" fill="#888"/>
<rect x="404.87" y="529.30" width="0.7" height="1.5" fill="#888"/>
<polygon points="312.80,529.30 312.80,507.60 313.40,504.80 315.50,495.20 317.60,481.40 319.70,467.60 321.30,456.60 322.70,451.00 323.80,449.00 324.90,451.00 326.30,455.20 327.20,463.40 328.60,477.20 330.00,491.00 331.40,502.00 333.40,513.10 335.50,520.00 337.60,524.80 340.30,529.00 340.30,529.30" fill="#8a8a8a" stroke="#111" stroke-width="0.95" stroke-linejoin="round"/>
<polyline points="315.50,528.80 321.00,526.90 323.80,524.10 325.90,518.60 327.90,509.00 330.00,500.70 332.10,497.90 334.10,495.20 335.50,493.80 336.90,495.20 337.60,489.70 338.30,494.50 339.70,493.10 341.40,492.40 343.40,484.10 345.50,474.50 347.60,465.50 348.60,463.40 349.40,465.50 350.30,459.30 351.70,456.60 353.80,453.80 355.40,451.70 356.60,450.80 357.50,453.80 357.90,464.80 358.60,474.50 360.00,476.60 360.70,484.10 361.80,493.80 363.20,503.40 364.80,513.10 366.50,521.40 368.30,526.90 370.30,529.00" fill="none" stroke="#333" stroke-width="0.9" stroke-linejoin="round"/>
<rect x="312.10" y="435.90" width="94.20" height="93.40" fill="none" stroke="#333" stroke-width="1.2"/>
<line x1="312.10" y1="435.30" x2="312.10" y2="529.90" stroke="#555" stroke-width="2"/>
<line x1="312.10" y1="529.30" x2="406.80" y2="529.30" stroke="#111" stroke-width="1.15"/>
<g stroke="#333" stroke-width="1.5"><line x1="337.50" y1="492.80" x2="377.00" y2="492.80"/><line x1="337.50" y1="488.50" x2="337.50" y2="497.10"/><line x1="377.00" y1="488.50" x2="377.00" y2="497.10"/></g>
<g transform="translate(369.36,452.90) scale(1.0835,1)" fill="#000" stroke="#000" stroke-width="0.15">
<text x="0.00" y="0.00" font-size="15.70">81%</text>
</g>
<text x="415.82" y="532.60" font-size="4.6" fill="#555" stroke="#555" stroke-width="0.2">0</text>
<rect x="420.40" y="530.55" width="2" height="0.9" fill="#555"/>
<text x="413.26" y="514.02" font-size="4.6" fill="#555" stroke="#555" stroke-width="0.2">20</text>
<rect x="420.40" y="511.97" width="2" height="0.9" fill="#555"/>
<text x="413.26" y="495.44" font-size="4.6" fill="#555" stroke="#555" stroke-width="0.2">40</text>
<rect x="420.40" y="493.39" width="2" height="0.9" fill="#555"/>
<text x="413.26" y="476.86" font-size="4.6" fill="#555" stroke="#555" stroke-width="0.2">60</text>
<rect x="420.40" y="474.81" width="2" height="0.9" fill="#555"/>
<text x="413.26" y="458.28" font-size="4.6" fill="#555" stroke="#555" stroke-width="0.2">80</text>
<rect x="420.40" y="456.23" width="2" height="0.9" fill="#555"/>
<text x="410.70" y="439.70" font-size="4.6" fill="#555" stroke="#555" stroke-width="0.2">100</text>
<rect x="420.40" y="437.65" width="2" height="0.9" fill="#555"/>
<text x="420.20" y="541.50" font-size="4.6" fill="#555" stroke="#555" stroke-width="0.2">10</text>
<text x="425.30" y="539.30" font-size="3.6" fill="#555" stroke="#555" stroke-width="0.2">0</text>
<rect x="422.15" y="531.00" width="0.9" height="2.5" fill="#555"/>
<rect x="429.29" y="531.00" width="0.7" height="1.5" fill="#888"/>
<rect x="433.41" y="531.00" width="0.7" height="1.5" fill="#888"/>
<rect x="436.34" y="531.00" width="0.7" height="1.5" fill="#888"/>
<rect x="438.61" y="531.00" width="0.7" height="1.5" fill="#888"/>
<rect x="440.46" y="531.00" width="0.7" height="1.5" fill="#888"/>
<rect x="442.03" y="531.00" width="0.7" height="1.5" fill="#888"/>
<rect x="443.38" y="531.00" width="0.7" height="1.5" fill="#888"/>
<rect x="444.58" y="531.00" width="0.7" height="1.5" fill="#888"/>
<text x="443.60" y="541.50" font-size="4.6" fill="#555" stroke="#555" stroke-width="0.2">10</text>
<text x="448.70" y="539.30" font-size="3.6" fill="#555" stroke="#555" stroke-width="0.2">1</text>
<rect x="445.55" y="531.00" width="0.9" height="2.5" fill="#555"/>
<rect x="452.69" y="531.00" width="0.7" height="1.5" fill="#888"/>
<rect x="456.81" y="531.00" width="0.7" height="1.5" fill="#888"/>
<rect x="459.74" y="531.00" width="0.7" height="1.5" fill="#888"/>
<rect x="462.01" y="531.00" width="0.7" height="1.5" fill="#888"/>
<rect x="463.86" y="531.00" width="0.7" height="1.5" fill="#888"/>
<rect x="465.43" y="531.00" width="0.7" height="1.5" fill="#888"/>
<rect x="466.78" y="531.00" width="0.7" height="1.5" fill="#888"/>
<rect x="467.98" y="531.00" width="0.7" height="1.5" fill="#888"/>
<text x="467.00" y="541.50" font-size="4.6" fill="#555" stroke="#555" stroke-width="0.2">10</text>
<text x="472.10" y="539.30" font-size="3.6" fill="#555" stroke="#555" stroke-width="0.2">2</text>
<rect x="468.95" y="531.00" width="0.9" height="2.5" fill="#555"/>
<rect x="476.09" y="531.00" width="0.7" height="1.5" fill="#888"/>
<rect x="480.21" y="531.00" width="0.7" height="1.5" fill="#888"/>
<rect x="483.14" y="531.00" width="0.7" height="1.5" fill="#888"/>
<rect x="485.41" y="531.00" width="0.7" height="1.5" fill="#888"/>
<rect x="487.26" y="531.00" width="0.7" height="1.5" fill="#888"/>
<rect x="488.83" y="531.00" width="0.7" height="1.5" fill="#888"/>
<rect x="490.18" y="531.00" width="0.7" height="1.5" fill="#888"/>
<rect x="491.38" y="531.00" width="0.7" height="1.5" fill="#888"/>
<text x="490.40" y="541.50" font-size="4.6" fill="#555" stroke="#555" stroke-width="0.2">10</text>
<text x="495.50" y="539.30" font-size="3.6" fill="#555" stroke="#555" stroke-width="0.2">3</text>
<rect x="492.35" y="531.00" width="0.9" height="2.5" fill="#555"/>
<rect x="499.49" y="531.00" width="0.7" height="1.5" fill="#888"/>
<rect x="503.61" y="531.00" width="0.7" height="1.5" fill="#888"/>
<rect x="506.54" y="531.00" width="0.7" height="1.5" fill="#888"/>
<rect x="508.81" y="531.00" width="0.7" height="1.5" fill="#888"/>
<rect x="510.66" y="531.00" width="0.7" height="1.5" fill="#888"/>
<rect x="512.23" y="531.00" width="0.7" height="1.5" fill="#888"/>
<rect x="513.58" y="531.00" width="0.7" height="1.5" fill="#888"/>
<rect x="514.78" y="531.00" width="0.7" height="1.5" fill="#888"/>
<polygon points="423.10,531.00 423.10,466.00 424.40,510.40 425.60,503.40 427.70,489.30 429.90,475.20 432.00,461.10 433.40,452.70 434.10,451.30 435.20,453.40 436.60,455.50 437.60,461.10 439.00,471.00 440.40,485.10 441.80,499.20 443.20,513.20 445.40,521.70 448.20,528.00 450.30,530.80 450.30,531.00" fill="#8a8a8a" stroke="#111" stroke-width="0.95" stroke-linejoin="round"/>
<polyline points="423.10,466.00 424.40,510.40 425.60,503.40 427.70,489.30 429.90,475.20 432.00,461.10 433.40,452.70 434.10,451.30 436.90,458.30 439.00,471.00 440.40,469.60 441.10,473.80 442.50,480.80 444.60,483.70 446.10,485.10 447.50,482.30 448.90,485.10 449.60,487.90 450.30,490.70 451.70,493.50 453.10,499.20 455.20,506.20 456.70,513.00 458.70,519.50 460.50,522.00 462.30,527.30 465.10,530.80" fill="none" stroke="#333" stroke-width="0.9" stroke-linejoin="round"/>
<rect x="422.60" y="438.10" width="93.60" height="92.90" fill="none" stroke="#333" stroke-width="1.2"/>
<line x1="422.60" y1="437.50" x2="422.60" y2="531.60" stroke="#555" stroke-width="2"/>
<line x1="422.60" y1="531.00" x2="516.70" y2="531.00" stroke="#111" stroke-width="1.15"/>
<g stroke="#333" stroke-width="1.5"><line x1="448.20" y1="493.00" x2="487.20" y2="493.00"/><line x1="448.20" y1="488.70" x2="448.20" y2="497.30"/><line x1="487.20" y1="488.70" x2="487.20" y2="497.30"/></g>
<g transform="translate(479.13,454.70) scale(1.0973,1)" fill="#000" stroke="#000" stroke-width="0.15">
<text x="0.00" y="0.00" font-size="15.70">24%</text>
</g>
<text x="73.82" y="651.80" font-size="4.6" fill="#555" stroke="#555" stroke-width="0.2">0</text>
<rect x="78.40" y="649.75" width="2" height="0.9" fill="#555"/>
<text x="71.26" y="633.10" font-size="4.6" fill="#555" stroke="#555" stroke-width="0.2">20</text>
<rect x="78.40" y="631.05" width="2" height="0.9" fill="#555"/>
<text x="71.26" y="614.40" font-size="4.6" fill="#555" stroke="#555" stroke-width="0.2">40</text>
<rect x="78.40" y="612.35" width="2" height="0.9" fill="#555"/>
<text x="71.26" y="595.70" font-size="4.6" fill="#555" stroke="#555" stroke-width="0.2">60</text>
<rect x="78.40" y="593.65" width="2" height="0.9" fill="#555"/>
<text x="71.26" y="577.00" font-size="4.6" fill="#555" stroke="#555" stroke-width="0.2">80</text>
<rect x="78.40" y="574.95" width="2" height="0.9" fill="#555"/>
<text x="68.70" y="558.30" font-size="4.6" fill="#555" stroke="#555" stroke-width="0.2">100</text>
<rect x="78.40" y="556.25" width="2" height="0.9" fill="#555"/>
<text x="78.20" y="660.70" font-size="4.6" fill="#555" stroke="#555" stroke-width="0.2">10</text>
<text x="83.30" y="658.50" font-size="3.6" fill="#555" stroke="#555" stroke-width="0.2">0</text>
<rect x="80.15" y="650.20" width="0.9" height="2.5" fill="#555"/>
<rect x="87.34" y="650.20" width="0.7" height="1.5" fill="#888"/>
<rect x="91.49" y="650.20" width="0.7" height="1.5" fill="#888"/>
<rect x="94.43" y="650.20" width="0.7" height="1.5" fill="#888"/>
<rect x="96.71" y="650.20" width="0.7" height="1.5" fill="#888"/>
<rect x="98.58" y="650.20" width="0.7" height="1.5" fill="#888"/>
<rect x="100.15" y="650.20" width="0.7" height="1.5" fill="#888"/>
<rect x="101.52" y="650.20" width="0.7" height="1.5" fill="#888"/>
<rect x="102.72" y="650.20" width="0.7" height="1.5" fill="#888"/>
<text x="101.75" y="660.70" font-size="4.6" fill="#555" stroke="#555" stroke-width="0.2">10</text>
<text x="106.85" y="658.50" font-size="3.6" fill="#555" stroke="#555" stroke-width="0.2">1</text>
<rect x="103.70" y="650.20" width="0.9" height="2.5" fill="#555"/>
<rect x="110.89" y="650.20" width="0.7" height="1.5" fill="#888"/>
<rect x="115.04" y="650.20" width="0.7" height="1.5" fill="#888"/>
<rect x="117.98" y="650.20" width="0.7" height="1.5" fill="#888"/>
<rect x="120.26" y="650.20" width="0.7" height="1.5" fill="#888"/>
<rect x="122.13" y="650.20" width="0.7" height="1.5" fill="#888"/>
<rect x="123.70" y="650.20" width="0.7" height="1.5" fill="#888"/>
<rect x="125.07" y="650.20" width="0.7" height="1.5" fill="#888"/>
<rect x="126.27" y="650.20" width="0.7" height="1.5" fill="#888"/>
<text x="125.30" y="660.70" font-size="4.6" fill="#555" stroke="#555" stroke-width="0.2">10</text>
<text x="130.40" y="658.50" font-size="3.6" fill="#555" stroke="#555" stroke-width="0.2">2</text>
<rect x="127.25" y="650.20" width="0.9" height="2.5" fill="#555"/>
<rect x="134.44" y="650.20" width="0.7" height="1.5" fill="#888"/>
<rect x="138.59" y="650.20" width="0.7" height="1.5" fill="#888"/>
<rect x="141.53" y="650.20" width="0.7" height="1.5" fill="#888"/>
<rect x="143.81" y="650.20" width="0.7" height="1.5" fill="#888"/>
<rect x="145.68" y="650.20" width="0.7" height="1.5" fill="#888"/>
<rect x="147.25" y="650.20" width="0.7" height="1.5" fill="#888"/>
<rect x="148.62" y="650.20" width="0.7" height="1.5" fill="#888"/>
<rect x="149.82" y="650.20" width="0.7" height="1.5" fill="#888"/>
<text x="148.85" y="660.70" font-size="4.6" fill="#555" stroke="#555" stroke-width="0.2">10</text>
<text x="153.95" y="658.50" font-size="3.6" fill="#555" stroke="#555" stroke-width="0.2">3</text>
<rect x="150.80" y="650.20" width="0.9" height="2.5" fill="#555"/>
<rect x="157.99" y="650.20" width="0.7" height="1.5" fill="#888"/>
<rect x="162.14" y="650.20" width="0.7" height="1.5" fill="#888"/>
<rect x="165.08" y="650.20" width="0.7" height="1.5" fill="#888"/>
<rect x="167.36" y="650.20" width="0.7" height="1.5" fill="#888"/>
<rect x="169.23" y="650.20" width="0.7" height="1.5" fill="#888"/>
<rect x="170.80" y="650.20" width="0.7" height="1.5" fill="#888"/>
<rect x="172.17" y="650.20" width="0.7" height="1.5" fill="#888"/>
<rect x="173.37" y="650.20" width="0.7" height="1.5" fill="#888"/>
<polygon points="82.80,650.20 82.80,649.50 84.90,640.00 87.00,624.80 89.00,608.30 91.10,591.70 92.90,579.30 94.30,573.80 95.20,569.70 95.90,569.00 96.60,573.80 97.30,587.60 98.40,605.50 99.80,624.80 101.20,640.00 102.60,649.50 102.60,650.20" fill="#8a8a8a" stroke="#111" stroke-width="0.95" stroke-linejoin="round"/>
<polyline points="102.60,649.50 104.90,642.80 107.70,634.50 109.70,626.20 111.10,615.20 112.50,598.60 113.90,583.40 115.20,572.40 116.30,569.00 117.70,570.30 118.40,572.40 119.10,587.60 120.10,604.10 121.00,619.30 122.10,631.70 123.50,640.00 124.20,644.50 126.50,645.70 129.50,647.50 134.00,650.00" fill="none" stroke="#333" stroke-width="0.9" stroke-linejoin="round"/>
<rect x="80.60" y="556.70" width="94.20" height="93.50" fill="none" stroke="#333" stroke-width="1.2"/>
<line x1="80.60" y1="556.10" x2="80.60" y2="650.80" stroke="#555" stroke-width="2"/>
<line x1="80.60" y1="650.20" x2="175.30" y2="650.20" stroke="#111" stroke-width="1.15"/>
<g stroke="#333" stroke-width="1.5"><line x1="105.00" y1="613.30" x2="144.50" y2="613.30"/><line x1="105.00" y1="609.00" x2="105.00" y2="617.60"/><line x1="144.50" y1="609.00" x2="144.50" y2="617.60"/></g>
<g transform="translate(136.88,573.40) scale(1.1119,1)" fill="#000" stroke="#000" stroke-width="0.15">
<text x="0.00" y="0.00" font-size="15.70">98%</text>
</g>
<text x="193.72" y="651.40" font-size="4.6" fill="#555" stroke="#555" stroke-width="0.2">0</text>
<rect x="198.30" y="649.35" width="2" height="0.9" fill="#555"/>
<text x="191.16" y="632.80" font-size="4.6" fill="#555" stroke="#555" stroke-width="0.2">20</text>
<rect x="198.30" y="630.75" width="2" height="0.9" fill="#555"/>
<text x="191.16" y="614.20" font-size="4.6" fill="#555" stroke="#555" stroke-width="0.2">40</text>
<rect x="198.30" y="612.15" width="2" height="0.9" fill="#555"/>
<text x="191.16" y="595.60" font-size="4.6" fill="#555" stroke="#555" stroke-width="0.2">60</text>
<rect x="198.30" y="593.55" width="2" height="0.9" fill="#555"/>
<text x="191.16" y="577.00" font-size="4.6" fill="#555" stroke="#555" stroke-width="0.2">80</text>
<rect x="198.30" y="574.95" width="2" height="0.9" fill="#555"/>
<text x="188.60" y="558.40" font-size="4.6" fill="#555" stroke="#555" stroke-width="0.2">100</text>
<rect x="198.30" y="556.35" width="2" height="0.9" fill="#555"/>
<text x="198.10" y="660.30" font-size="4.6" fill="#555" stroke="#555" stroke-width="0.2">10</text>
<text x="203.20" y="658.10" font-size="3.6" fill="#555" stroke="#555" stroke-width="0.2">0</text>
<rect x="200.05" y="649.80" width="0.9" height="2.5" fill="#555"/>
<rect x="207.22" y="649.80" width="0.7" height="1.5" fill="#888"/>
<rect x="211.36" y="649.80" width="0.7" height="1.5" fill="#888"/>
<rect x="214.30" y="649.80" width="0.7" height="1.5" fill="#888"/>
<rect x="216.58" y="649.80" width="0.7" height="1.5" fill="#888"/>
<rect x="218.44" y="649.80" width="0.7" height="1.5" fill="#888"/>
<rect x="220.01" y="649.80" width="0.7" height="1.5" fill="#888"/>
<rect x="221.37" y="649.80" width="0.7" height="1.5" fill="#888"/>
<rect x="222.57" y="649.80" width="0.7" height="1.5" fill="#888"/>
<text x="221.60" y="660.30" font-size="4.6" fill="#555" stroke="#555" stroke-width="0.2">10</text>
<text x="226.70" y="658.10" font-size="3.6" fill="#555" stroke="#555" stroke-width="0.2">1</text>
<rect x="223.55" y="649.80" width="0.9" height="2.5" fill="#555"/>
<rect x="230.72" y="649.80" width="0.7" height="1.5" fill="#888"/>
<rect x="234.86" y="649.80" width="0.7" height="1.5" fill="#888"/>
<rect x="237.80" y="649.80" width="0.7" height="1.5" fill="#888"/>
<rect x="240.08" y="649.80" width="0.7" height="1.5" fill="#888"/>
<rect x="241.94" y="649.80" width="0.7" height="1.5" fill="#888"/>
<rect x="243.51" y="649.80" width="0.7" height="1.5" fill="#888"/>
<rect x="244.87" y="649.80" width="0.7" height="1.5" fill="#888"/>
<rect x="246.07" y="649.80" width="0.7" height="1.5" fill="#888"/>
<text x="245.10" y="660.30" font-size="4.6" fill="#555" stroke="#555" stroke-width="0.2">10</text>
<text x="250.20" y="658.10" font-size="3.6" fill="#555" stroke="#555" stroke-width="0.2">2</text>
<rect x="247.05" y="649.80" width="0.9" height="2.5" fill="#555"/>
<rect x="254.22" y="649.80" width="0.7" height="1.5" fill="#888"/>
<rect x="258.36" y="649.80" width="0.7" height="1.5" fill="#888"/>
<rect x="261.30" y="649.80" width="0.7" height="1.5" fill="#888"/>
<rect x="263.58" y="649.80" width="0.7" height="1.5" fill="#888"/>
<rect x="265.44" y="649.80" width="0.7" height="1.5" fill="#888"/>
<rect x="267.01" y="649.80" width="0.7" height="1.5" fill="#888"/>
<rect x="268.37" y="649.80" width="0.7" height="1.5" fill="#888"/>
<rect x="269.57" y="649.80" width="0.7" height="1.5" fill="#888"/>
<text x="268.60" y="660.30" font-size="4.6" fill="#555" stroke="#555" stroke-width="0.2">10</text>
<text x="273.70" y="658.10" font-size="3.6" fill="#555" stroke="#555" stroke-width="0.2">3</text>
<rect x="270.55" y="649.80" width="0.9" height="2.5" fill="#555"/>
<rect x="277.72" y="649.80" width="0.7" height="1.5" fill="#888"/>
<rect x="281.86" y="649.80" width="0.7" height="1.5" fill="#888"/>
<rect x="284.80" y="649.80" width="0.7" height="1.5" fill="#888"/>
<rect x="287.08" y="649.80" width="0.7" height="1.5" fill="#888"/>
<rect x="288.94" y="649.80" width="0.7" height="1.5" fill="#888"/>
<rect x="290.51" y="649.80" width="0.7" height="1.5" fill="#888"/>
<rect x="291.87" y="649.80" width="0.7" height="1.5" fill="#888"/>
<rect x="293.07" y="649.80" width="0.7" height="1.5" fill="#888"/>
<polygon points="200.80,649.80 200.80,642.80 202.10,648.50 202.80,648.30 204.90,637.20 207.00,624.80 209.00,608.30 211.10,590.30 212.90,577.90 214.30,572.40 215.20,569.70 215.90,569.00 216.60,573.80 217.60,587.60 218.70,605.50 220.10,624.80 221.40,640.00 222.80,649.30 222.80,649.80" fill="#8a8a8a" stroke="#111" stroke-width="0.95" stroke-linejoin="round"/>
<polyline points="200.80,648.30 204.20,641.40 207.00,633.10 209.00,626.20 211.10,622.10 212.90,618.00 214.60,612.40 215.90,606.90 217.30,601.40 218.70,600.00 220.10,601.40 221.40,598.60 222.80,597.20 224.20,587.60 225.20,584.80 226.30,591.70 227.70,593.10 229.00,597.20 230.00,601.40 231.10,589.00 231.80,589.70 233.00,598.00 234.50,608.50 236.70,619.00 239.00,628.00 241.20,632.50 243.50,635.50 245.70,643.00 248.00,649.50" fill="none" stroke="#333" stroke-width="0.9" stroke-linejoin="round"/>
<rect x="200.50" y="556.80" width="94.00" height="93.00" fill="none" stroke="#333" stroke-width="1.2"/>
<line x1="200.50" y1="556.20" x2="200.50" y2="650.40" stroke="#555" stroke-width="2"/>
<line x1="200.50" y1="649.80" x2="295.00" y2="649.80" stroke="#111" stroke-width="1.15"/>
<g stroke="#333" stroke-width="1.5"><line x1="226.00" y1="613.50" x2="265.50" y2="613.50"/><line x1="226.00" y1="609.20" x2="226.00" y2="617.80"/><line x1="265.50" y1="609.20" x2="265.50" y2="617.80"/></g>
<g transform="translate(257.51,573.40) scale(1.0915,1)" fill="#000" stroke="#000" stroke-width="0.15">
<text x="0.00" y="0.00" font-size="15.70">58%</text>
</g>
<text x="305.62" y="651.60" font-size="4.6" fill="#555" stroke="#555" stroke-width="0.2">0</text>
<rect x="310.20" y="649.55" width="2" height="0.9" fill="#555"/>
<text x="303.06" y="632.92" font-size="4.6" fill="#555" stroke="#555" stroke-width="0.2">20</text>
<rect x="310.20" y="630.87" width="2" height="0.9" fill="#555"/>
<text x="303.06" y="614.24" font-size="4.6" fill="#555" stroke="#555" stroke-width="0.2">40</text>
<rect x="310.20" y="612.19" width="2" height="0.9" fill="#555"/>
<text x="303.06" y="595.56" font-size="4.6" fill="#555" stroke="#555" stroke-width="0.2">60</text>
<rect x="310.20" y="593.51" width="2" height="0.9" fill="#555"/>
<text x="303.06" y="576.88" font-size="4.6" fill="#555" stroke="#555" stroke-width="0.2">80</text>
<rect x="310.20" y="574.83" width="2" height="0.9" fill="#555"/>
<text x="300.50" y="558.20" font-size="4.6" fill="#555" stroke="#555" stroke-width="0.2">100</text>
<rect x="310.20" y="556.15" width="2" height="0.9" fill="#555"/>
<text x="310.00" y="660.50" font-size="4.6" fill="#555" stroke="#555" stroke-width="0.2">10</text>
<text x="315.10" y="658.30" font-size="3.6" fill="#555" stroke="#555" stroke-width="0.2">0</text>
<rect x="311.95" y="650.00" width="0.9" height="2.5" fill="#555"/>
<rect x="319.11" y="650.00" width="0.7" height="1.5" fill="#888"/>
<rect x="323.24" y="650.00" width="0.7" height="1.5" fill="#888"/>
<rect x="326.17" y="650.00" width="0.7" height="1.5" fill="#888"/>
<rect x="328.44" y="650.00" width="0.7" height="1.5" fill="#888"/>
<rect x="330.30" y="650.00" width="0.7" height="1.5" fill="#888"/>
<rect x="331.87" y="650.00" width="0.7" height="1.5" fill="#888"/>
<rect x="333.23" y="650.00" width="0.7" height="1.5" fill="#888"/>
<rect x="334.43" y="650.00" width="0.7" height="1.5" fill="#888"/>
<text x="333.45" y="660.50" font-size="4.6" fill="#555" stroke="#555" stroke-width="0.2">10</text>
<text x="338.55" y="658.30" font-size="3.6" fill="#555" stroke="#555" stroke-width="0.2">1</text>
<rect x="335.40" y="650.00" width="0.9" height="2.5" fill="#555"/>
<rect x="342.56" y="650.00" width="0.7" height="1.5" fill="#888"/>
<rect x="346.69" y="650.00" width="0.7" height="1.5" fill="#888"/>
<rect x="349.62" y="650.00" width="0.7" height="1.5" fill="#888"/>
<rect x="351.89" y="650.00" width="0.7" height="1.5" fill="#888"/>
<rect x="353.75" y="650.00" width="0.7" height="1.5" fill="#888"/>
<rect x="355.32" y="650.00" width="0.7" height="1.5" fill="#888"/>
<rect x="356.68" y="650.00" width="0.7" height="1.5" fill="#888"/>
<rect x="357.88" y="650.00" width="0.7" height="1.5" fill="#888"/>
<text x="356.90" y="660.50" font-size="4.6" fill="#555" stroke="#555" stroke-width="0.2">10</text>
<text x="362.00" y="658.30" font-size="3.6" fill="#555" stroke="#555" stroke-width="0.2">2</text>
<rect x="358.85" y="650.00" width="0.9" height="2.5" fill="#555"/>
<rect x="366.01" y="650.00" width="0.7" height="1.5" fill="#888"/>
<rect x="370.14" y="650.00" width="0.7" height="1.5" fill="#888"/>
<rect x="373.07" y="650.00" width="0.7" height="1.5" fill="#888"/>
<rect x="375.34" y="650.00" width="0.7" height="1.5" fill="#888"/>
<rect x="377.20" y="650.00" width="0.7" height="1.5" fill="#888"/>
<rect x="378.77" y="650.00" width="0.7" height="1.5" fill="#888"/>
<rect x="380.13" y="650.00" width="0.7" height="1.5" fill="#888"/>
<rect x="381.33" y="650.00" width="0.7" height="1.5" fill="#888"/>
<text x="380.35" y="660.50" font-size="4.6" fill="#555" stroke="#555" stroke-width="0.2">10</text>
<text x="385.45" y="658.30" font-size="3.6" fill="#555" stroke="#555" stroke-width="0.2">3</text>
<rect x="382.30" y="650.00" width="0.9" height="2.5" fill="#555"/>
<rect x="389.46" y="650.00" width="0.7" height="1.5" fill="#888"/>
<rect x="393.59" y="650.00" width="0.7" height="1.5" fill="#888"/>
<rect x="396.52" y="650.00" width="0.7" height="1.5" fill="#888"/>
<rect x="398.79" y="650.00" width="0.7" height="1.5" fill="#888"/>
<rect x="400.65" y="650.00" width="0.7" height="1.5" fill="#888"/>
<rect x="402.22" y="650.00" width="0.7" height="1.5" fill="#888"/>
<rect x="403.58" y="650.00" width="0.7" height="1.5" fill="#888"/>
<rect x="404.78" y="650.00" width="0.7" height="1.5" fill="#888"/>
<polygon points="314.10,650.00 314.10,649.50 316.20,640.00 318.30,626.20 320.30,609.70 322.40,593.10 324.10,579.30 325.40,572.40 326.60,569.70 327.20,568.30 327.90,572.40 329.00,587.60 330.00,605.50 331.40,623.40 332.80,638.60 334.10,649.50 334.10,650.00" fill="#8a8a8a" stroke="#111" stroke-width="0.95" stroke-linejoin="round"/>
<polyline points="318.30,649.50 321.70,647.60 324.50,644.10 327.20,640.00 330.00,635.20 332.10,630.30 334.10,626.20 336.20,621.40 337.60,619.30 338.30,617.90 339.70,611.00 340.60,601.40 341.70,590.30 343.10,580.70 344.50,573.80 345.60,571.00 346.60,573.10 347.20,580.70 348.30,587.60 349.30,595.20 350.30,597.20 351.10,593.10 352.80,594.50 354.10,597.20 355.50,600.00 357.60,604.10 358.70,607.70 359.50,616.00 360.20,626.50 361.30,637.00 362.50,644.50 364.00,648.20 366.20,650.00" fill="none" stroke="#333" stroke-width="0.9" stroke-linejoin="round"/>
<rect x="312.40" y="556.60" width="93.80" height="93.40" fill="none" stroke="#333" stroke-width="1.2"/>
<line x1="312.40" y1="556.00" x2="312.40" y2="650.60" stroke="#555" stroke-width="2"/>
<line x1="312.40" y1="650.00" x2="406.70" y2="650.00" stroke="#111" stroke-width="1.15"/>
<g stroke="#333" stroke-width="1.5"><line x1="336.50" y1="613.50" x2="375.50" y2="613.50"/><line x1="336.50" y1="609.20" x2="336.50" y2="617.80"/><line x1="375.50" y1="609.20" x2="375.50" y2="617.80"/></g>
<g transform="translate(368.97,573.40) scale(1.0768,1)" fill="#000" stroke="#000" stroke-width="0.15">
<text x="0.00" y="0.00" font-size="15.70">85%</text>
</g>
<text x="416.52" y="652.80" font-size="4.6" fill="#555" stroke="#555" stroke-width="0.2">0</text>
<rect x="421.10" y="650.75" width="2" height="0.9" fill="#555"/>
<text x="413.96" y="634.24" font-size="4.6" fill="#555" stroke="#555" stroke-width="0.2">20</text>
<rect x="421.10" y="632.19" width="2" height="0.9" fill="#555"/>
<text x="413.96" y="615.68" font-size="4.6" fill="#555" stroke="#555" stroke-width="0.2">40</text>
<rect x="421.10" y="613.63" width="2" height="0.9" fill="#555"/>
<text x="413.96" y="597.12" font-size="4.6" fill="#555" stroke="#555" stroke-width="0.2">60</text>
<rect x="421.10" y="595.07" width="2" height="0.9" fill="#555"/>
<text x="413.96" y="578.56" font-size="4.6" fill="#555" stroke="#555" stroke-width="0.2">80</text>
<rect x="421.10" y="576.51" width="2" height="0.9" fill="#555"/>
<text x="411.40" y="560.00" font-size="4.6" fill="#555" stroke="#555" stroke-width="0.2">100</text>
<rect x="421.10" y="557.95" width="2" height="0.9" fill="#555"/>
<text x="420.90" y="661.70" font-size="4.6" fill="#555" stroke="#555" stroke-width="0.2">10</text>
<text x="426.00" y="659.50" font-size="3.6" fill="#555" stroke="#555" stroke-width="0.2">0</text>
<rect x="422.85" y="651.20" width="0.9" height="2.5" fill="#555"/>
<rect x="429.98" y="651.20" width="0.7" height="1.5" fill="#888"/>
<rect x="434.09" y="651.20" width="0.7" height="1.5" fill="#888"/>
<rect x="437.01" y="651.20" width="0.7" height="1.5" fill="#888"/>
<rect x="439.27" y="651.20" width="0.7" height="1.5" fill="#888"/>
<rect x="441.12" y="651.20" width="0.7" height="1.5" fill="#888"/>
<rect x="442.68" y="651.20" width="0.7" height="1.5" fill="#888"/>
<rect x="444.04" y="651.20" width="0.7" height="1.5" fill="#888"/>
<rect x="445.23" y="651.20" width="0.7" height="1.5" fill="#888"/>
<text x="444.25" y="661.70" font-size="4.6" fill="#555" stroke="#555" stroke-width="0.2">10</text>
<text x="449.35" y="659.50" font-size="3.6" fill="#555" stroke="#555" stroke-width="0.2">1</text>
<rect x="446.20" y="651.20" width="0.9" height="2.5" fill="#555"/>
<rect x="453.33" y="651.20" width="0.7" height="1.5" fill="#888"/>
<rect x="457.44" y="651.20" width="0.7" height="1.5" fill="#888"/>
<rect x="460.36" y="651.20" width="0.7" height="1.5" fill="#888"/>
<rect x="462.62" y="651.20" width="0.7" height="1.5" fill="#888"/>
<rect x="464.47" y="651.20" width="0.7" height="1.5" fill="#888"/>
<rect x="466.03" y="651.20" width="0.7" height="1.5" fill="#888"/>
<rect x="467.39" y="651.20" width="0.7" height="1.5" fill="#888"/>
<rect x="468.58" y="651.20" width="0.7" height="1.5" fill="#888"/>
<text x="467.60" y="661.70" font-size="4.6" fill="#555" stroke="#555" stroke-width="0.2">10</text>
<text x="472.70" y="659.50" font-size="3.6" fill="#555" stroke="#555" stroke-width="0.2">2</text>
<rect x="469.55" y="651.20" width="0.9" height="2.5" fill="#555"/>
<rect x="476.68" y="651.20" width="0.7" height="1.5" fill="#888"/>
<rect x="480.79" y="651.20" width="0.7" height="1.5" fill="#888"/>
<rect x="483.71" y="651.20" width="0.7" height="1.5" fill="#888"/>
<rect x="485.97" y="651.20" width="0.7" height="1.5" fill="#888"/>
<rect x="487.82" y="651.20" width="0.7" height="1.5" fill="#888"/>
<rect x="489.38" y="651.20" width="0.7" height="1.5" fill="#888"/>
<rect x="490.74" y="651.20" width="0.7" height="1.5" fill="#888"/>
<rect x="491.93" y="651.20" width="0.7" height="1.5" fill="#888"/>
<text x="490.95" y="661.70" font-size="4.6" fill="#555" stroke="#555" stroke-width="0.2">10</text>
<text x="496.05" y="659.50" font-size="3.6" fill="#555" stroke="#555" stroke-width="0.2">3</text>
<rect x="492.90" y="651.20" width="0.9" height="2.5" fill="#555"/>
<rect x="500.03" y="651.20" width="0.7" height="1.5" fill="#888"/>
<rect x="504.14" y="651.20" width="0.7" height="1.5" fill="#888"/>
<rect x="507.06" y="651.20" width="0.7" height="1.5" fill="#888"/>
<rect x="509.32" y="651.20" width="0.7" height="1.5" fill="#888"/>
<rect x="511.17" y="651.20" width="0.7" height="1.5" fill="#888"/>
<rect x="512.73" y="651.20" width="0.7" height="1.5" fill="#888"/>
<rect x="514.09" y="651.20" width="0.7" height="1.5" fill="#888"/>
<rect x="515.28" y="651.20" width="0.7" height="1.5" fill="#888"/>
<polygon points="423.50,651.20 423.50,645.20 425.60,650.50 426.30,650.50 428.50,638.90 430.60,624.80 432.70,607.90 434.80,591.00 436.20,579.70 437.60,574.10 438.60,571.30 439.40,575.50 440.10,588.20 441.10,606.50 442.50,626.20 443.90,641.70 445.40,650.50 445.40,651.20" fill="#8a8a8a" stroke="#111" stroke-width="0.95" stroke-linejoin="round"/>
<polyline points="425.60,650.50 428.50,641.70 430.60,634.60 432.70,624.80 434.80,616.30 436.90,607.90 439.00,599.40 440.80,591.00 441.80,592.40 442.80,597.30 443.90,593.80 445.10,592.40 446.10,596.60 447.50,589.60 448.50,585.40 449.60,592.40 450.70,600.80 451.70,605.10 452.70,603.70 453.80,602.30 454.50,606.50 455.50,613.50 456.60,622.00 458.00,629.00 460.10,630.40 461.50,634.60 462.00,637.00 464.20,644.50 466.50,648.20 468.70,651.00" fill="none" stroke="#333" stroke-width="0.9" stroke-linejoin="round"/>
<rect x="423.30" y="558.40" width="93.40" height="92.80" fill="none" stroke="#333" stroke-width="1.2"/>
<line x1="423.30" y1="557.80" x2="423.30" y2="651.80" stroke="#555" stroke-width="2"/>
<line x1="423.30" y1="651.20" x2="517.20" y2="651.20" stroke="#111" stroke-width="1.15"/>
<g stroke="#333" stroke-width="1.5"><line x1="446.10" y1="613.50" x2="485.50" y2="613.50"/><line x1="446.10" y1="609.20" x2="446.10" y2="617.80"/><line x1="485.50" y1="609.20" x2="485.50" y2="617.80"/></g>
<g transform="translate(480.01,575.70) scale(1.0915,1)" fill="#000" stroke="#000" stroke-width="0.15">
<text x="0.00" y="0.00" font-size="15.70">55%</text>
</g>
</svg></body></html>
